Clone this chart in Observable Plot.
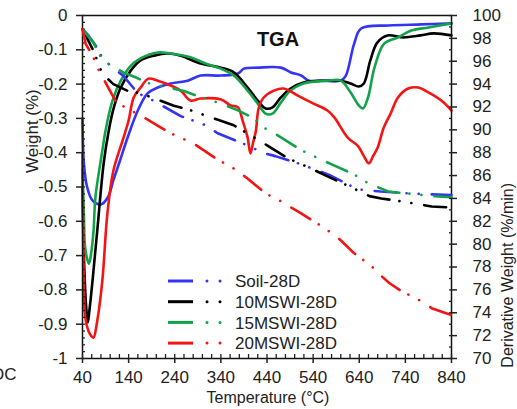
<!DOCTYPE html>
<html><head><meta charset="utf-8">
<script src="https://cdn.jsdelivr.net/npm/d3@7"></script>
<script src="https://cdn.jsdelivr.net/npm/@observablehq/plot@0.6"></script>
<style>
body{margin:0;background:#fff;}
#wrap{position:relative;width:517px;height:409px;overflow:hidden;font-family:"Liberation Sans",Arial,sans-serif;}
#wrap > svg{position:absolute;left:0;top:0;}
</style></head><body><div id="wrap"></div>
<script>
// ---------- data ----------
const seriesNames = ["Soil-28D", "10MSWI-28D", "15MSWI-28D", "20MSWI-28D"];
const seriesColors = ["#3434f5", "#000000", "#12a24a", "#f51414"];

const xMajorTicks = [40, 140, 240, 340, 440, 540, 640, 740, 840];
const leftTicks = [0, -0.1, -0.2, -0.3, -0.4, -0.5, -0.6, -0.7, -0.8, -0.9, -1];
const rightTicks = [70, 72, 74, 76, 78, 80, 82, 84, 86, 88, 90, 92, 94, 96, 98, 100];

// derivative weight (solid, left axis)
const soilDerivT = [40, 43, 50, 62, 80, 95, 107, 122, 138, 160, 181, 203, 231, 268, 296, 340, 377, 390, 420, 470, 492, 514, 531, 557, 600, 611, 629, 644, 703, 775, 840];
const soilDerivV = [-0.30, -0.43, -0.50, -0.54, -0.551, -0.53, -0.48, -0.42, -0.355, -0.277, -0.227, -0.21, -0.198, -0.19, -0.175, -0.175, -0.169, -0.155, -0.152, -0.152, -0.166, -0.175, -0.19, -0.19, -0.19, -0.175, -0.082, -0.038, -0.029, -0.026, -0.023];

const msw10DerivT = [40, 44, 48, 51.5, 55, 62, 72, 86, 97, 108, 123, 145, 166, 195, 225, 253, 296, 340, 368, 398, 420, 437, 452, 470, 491, 519, 571, 600, 621, 639, 650, 664, 679, 701, 736, 773, 801, 840];
const msw10DerivV = [-0.50, -0.74, -0.85, -0.895, -0.86, -0.77, -0.627, -0.43, -0.335, -0.268, -0.21, -0.16, -0.131, -0.117, -0.111, -0.117, -0.14, -0.152, -0.166, -0.21, -0.248, -0.271, -0.268, -0.239, -0.213, -0.195, -0.19, -0.19, -0.198, -0.207, -0.198, -0.131, -0.079, -0.058, -0.064, -0.058, -0.052, -0.058];

const msw15DerivT = [40, 43, 46, 54, 58, 64, 68, 83, 90, 105, 123, 145, 166, 203, 231, 274, 307, 340, 368, 398, 420, 437, 452, 470, 491, 519, 571, 600, 621, 639, 648, 659, 673, 694, 724, 753, 790, 840];
const msw15DerivV = [-0.45, -0.58, -0.68, -0.724, -0.70, -0.627, -0.53, -0.394, -0.335, -0.248, -0.19, -0.146, -0.125, -0.108, -0.111, -0.122, -0.14, -0.155, -0.175, -0.219, -0.257, -0.286, -0.286, -0.254, -0.219, -0.198, -0.19, -0.19, -0.224, -0.262, -0.271, -0.239, -0.152, -0.082, -0.064, -0.044, -0.035, -0.023];

const msw20DerivT = [40, 42, 46, 53, 60, 64, 72, 83, 94, 107, 129, 140, 151, 166, 183, 203, 231, 253, 274, 296, 340, 361, 377, 387, 398, 404, 410, 416, 422, 433, 455, 476, 506, 541, 571, 586, 615, 637, 650, 661, 670, 680, 693, 708, 724, 746, 768, 790, 818, 840];
const msw20DerivV = [-0.40, -0.70, -0.88, -0.92, -0.936, -0.939, -0.89, -0.773, -0.577, -0.452, -0.356, -0.306, -0.239, -0.21, -0.184, -0.19, -0.204, -0.219, -0.248, -0.242, -0.245, -0.262, -0.268, -0.306, -0.356, -0.402, -0.37, -0.335, -0.27, -0.239, -0.219, -0.213, -0.233, -0.257, -0.277, -0.297, -0.356, -0.38, -0.41, -0.431, -0.41, -0.385, -0.327, -0.286, -0.239, -0.213, -0.21, -0.224, -0.248, -0.277];

// weight (dash-dot-dot, right axis)
const soilWeightT = [40, 52, 68, 83, 101, 129, 160, 187, 253, 281, 307, 333, 400, 430, 458, 513, 539, 578, 636, 660, 686, 766, 840];
const soilWeightW = [98.8, 98.3, 97.4, 96.3, 95.6, 94.7, 93.2, 92.7, 91.2, 90.8, 90.4, 89.7, 88.6, 88.0, 87.7, 87.0, 86.6, 86.0, 84.8, 84.7, 84.6, 84.4, 84.3];

const msw10WeightT = [40, 64, 83, 107, 138, 166, 238, 268, 318, 368, 405, 442, 486, 531, 562, 616, 662, 688, 738, 768, 797, 840];
const msw10WeightW = [98.8, 96.9, 94.9, 94.0, 93.4, 93.2, 92.1, 91.8, 91.1, 90.4, 89.5, 88.6, 87.5, 86.7, 86.1, 85.1, 84.2, 84.0, 83.7, 83.5, 83.3, 83.2];

const msw15WeightT = [40, 64, 83, 129, 155, 181, 260, 286, 340, 377, 412, 433, 460, 507, 525, 579, 629, 651, 673, 703, 753, 800, 840];
const msw15WeightW = [98.8, 97.6, 96.1, 95.0, 94.6, 94.1, 93.4, 93.0, 92.3, 91.7, 91.0, 90.2, 89.6, 88.4, 88.0, 87.0, 86.1, 85.5, 85.1, 84.6, 84.4, 84.2, 84.1];

const msw20WeightT = [40, 47, 62, 73, 97, 112, 138, 160, 210, 231, 281, 329, 377, 399, 438, 464, 488, 514, 557, 583, 601, 629, 666, 683, 705, 731, 775, 797, 825, 840];
const msw20WeightW = [98.8, 97.5, 96.5, 95.4, 93.6, 92.5, 91.8, 91.4, 90.2, 89.7, 88.8, 87.5, 86.4, 85.7, 84.4, 83.9, 83.3, 82.7, 81.6, 80.9, 80.3, 79.2, 78.1, 77.4, 76.6, 75.9, 75.0, 74.4, 74.0, 73.8];

// ---------- build tables ----------
const rows = (name, T, V, key) => T.map((t, i) => ({series: name, T: t, [key]: V[i]}));
const deriv = [
  ...rows(seriesNames[0], soilDerivT, soilDerivV, "v"),
  ...rows(seriesNames[1], msw10DerivT, msw10DerivV, "v"),
  ...rows(seriesNames[2], msw15DerivT, msw15DerivV, "v"),
  ...rows(seriesNames[3], msw20DerivT, msw20DerivV, "v")
];
const weight = [
  ...rows(seriesNames[0], soilWeightT, soilWeightW, "w"),
  ...rows(seriesNames[1], msw10WeightT, msw10WeightW, "w"),
  ...rows(seriesNames[2], msw15WeightT, msw15WeightW, "w"),
  ...rows(seriesNames[3], msw20WeightT, msw20WeightW, "w")
];

const xMinorTicks = d3.range(40, 841, 20);
const leftMinor = d3.range(0, 51).map(i => -i / 50);
const rightMinor = d3.range(70, 101, 1);
const fmtLeft = v => v === 0 ? "0" : (v === -1 ? "-1" : "-" + (-v).toFixed(1));

const W = 517, H = 409;
const M = {marginLeft: 82, marginRight: 66, marginTop: 15, marginBottom: 51};
const font = {fontFamily: "'Liberation Sans', Arial, sans-serif", fontSize: "17px", color: "#222", background: "transparent", overflow: "visible"};
const color = {domain: seriesNames, range: seriesColors};

const main = Plot.plot({
  width: W, height: H, ...M,
  x: {domain: [40, 840]},
  y: {domain: [-1, 0]},
  color,
  style: font,
  marks: [
    Plot.line(deriv, {x: "T", y: "v", z: "series", stroke: "series", strokeWidth: 2.6, curve: "catmull-rom"}),
    Plot.frame({stroke: "#111", strokeWidth: 1.5}),
    Plot.axisX({ticks: xMinorTicks, tickSize: -4, tickFormat: () => "", label: null, strokeWidth: 1.3}),
    Plot.axisX({ticks: xMajorTicks, tickSize: 5, tickPadding: 7, label: null, strokeWidth: 1.5, fill: "#222"}),
    Plot.axisY({ticks: leftMinor, tickSize: -3, tickFormat: () => "", label: null, strokeWidth: 1.3}),
    Plot.axisY({ticks: leftTicks, tickSize: 6, tickPadding: 9, tickFormat: fmtLeft, label: null, strokeWidth: 1.5, fill: "#222"}),
    Plot.text(["TGA"], {frameAnchor: "top", dx: 11, dy: 16, fontWeight: "bold", fontSize: 20, fill: "#111"}),
    Plot.text(["Weight (%)"], {frameAnchor: "left", dx: -50, dy: -14, rotate: -90, fontSize: 17, fill: "#222"}),
    Plot.text(["Temperature (°C)"], {frameAnchor: "bottom", dx: 1, dy: 44, fontSize: 16, fill: "#222"})
  ]
});

const over = Plot.plot({
  width: W, height: H, ...M,
  x: {domain: [40, 840], axis: null},
  y: {domain: [70, 100]},
  color,
  style: font,
  marks: [
    Plot.line(weight, {x: "T", y: "w", z: "series", stroke: "series", strokeWidth: 2.6,
      strokeDasharray: "22,10,0.1,12,0.1,13", strokeLinecap: "round"}),
    Plot.axisY({anchor: "right", ticks: rightMinor, tickSize: -3, tickFormat: () => "", label: null, strokeWidth: 1.3}),
    Plot.axisY({anchor: "right", ticks: rightTicks, tickSize: 5, tickPadding: 16, label: null, strokeWidth: 1.5, fill: "#222"}),
    Plot.text(["Derivative Weight (%/min)"], {frameAnchor: "right", dx: 56, dy: -4, rotate: -90, fontSize: 16, fill: "#222"})
  ]
});

const wrap = document.getElementById("wrap");
wrap.appendChild(main);
wrap.appendChild(over);

// legend (inside the plot area, lower left)
const leg = d3.create("svg").attr("width", W).attr("height", H)
  .style("font-family", "'Liberation Sans', Arial, sans-serif");
seriesNames.forEach((name, i) => {
  const y = 281 + i * 20.7;
  const g = leg.append("g");
  g.append("line").attr("x1", 168).attr("x2", 193).attr("y1", y).attr("y2", y)
    .attr("stroke", seriesColors[i]).attr("stroke-width", 3);
  [207, 220].forEach(cx => g.append("circle").attr("cx", cx).attr("cy", y).attr("r", 1.5).attr("fill", seriesColors[i]));
  g.append("text").attr("x", 235).attr("y", y).attr("dy", "0.36em").attr("font-size", 17).attr("fill", "#222").text(name);
});
leg.append("text").attr("x", -9).attr("y", 380).attr("font-size", 17).attr("fill", "#222").text("OC");
wrap.appendChild(leg.node());
</script>
</body></html>
